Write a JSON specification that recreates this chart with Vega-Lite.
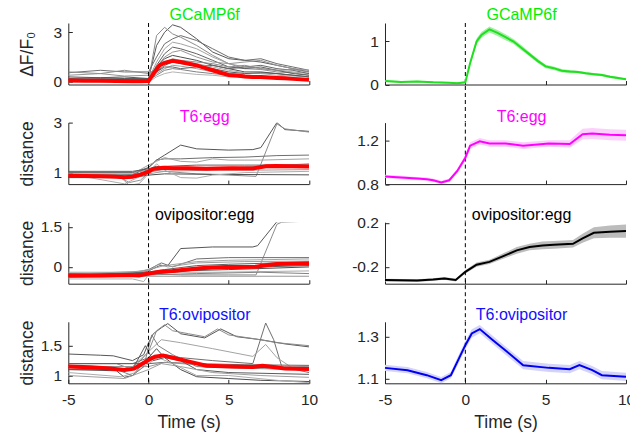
{
"$schema":"https://vega.github.io/schema/vega-lite/v6.json",
"background":"#ffffff",
"padding":{"left":18.3,"top":7,"right":2,"bottom":2},
"columns":2,
"spacing":{"row":37.6,"column":75.7},
"bounds":"flush",
"config":{"font":"Liberation Sans","view":{"stroke":null},"text":{"font":"Liberation Sans"},
"scale":{"nice":false,"zero":false},
"axis":{"grid":false,"domainColor":"#262626","tickColor":"#262626","tickSize":-4,"labelColor":"#262626","labelFont":"Liberation Sans","titleFont":"Liberation Sans","labelFontSize":15.5,"labelPadding":10.6,"titleFontSize":17.5,"titleFontWeight":"normal","titleColor":"#262626","labelFlush":false,"labelOverlap":false}},
"datasets":{
"g":[
{"p":1,"s":1,"t":-5,"v":0.3},{"p":1,"s":1,"t":-3,"v":0.25},{"p":1,"s":1,"t":-1.5,"v":0.3},{"p":1,"s":1,"t":0,"v":0.2},{"p":1,"s":1,"t":0.5,"v":2.2},{"p":1,"s":1,"t":1,"v":3.0},{"p":1,"s":1,"t":1.5,"v":3.45},{"p":1,"s":1,"t":2,"v":3.3},{"p":1,"s":1,"t":3,"v":2.6},{"p":1,"s":1,"t":4,"v":1.8},{"p":1,"s":1,"t":5,"v":1.4},{"p":1,"s":1,"t":6,"v":1.3},{"p":1,"s":1,"t":7,"v":1.2},{"p":1,"s":1,"t":8,"v":1.0},{"p":1,"s":1,"t":9,"v":0.8},{"p":1,"s":1,"t":10,"v":0.6},
{"p":1,"s":2,"t":-5,"v":0.1},{"p":1,"s":2,"t":-3,"v":0.15},{"p":1,"s":2,"t":-1.5,"v":0.1},{"p":1,"s":2,"t":0,"v":0.1},{"p":1,"s":2,"t":0.5,"v":2.8},{"p":1,"s":2,"t":1,"v":3.3},{"p":1,"s":2,"t":1.5,"v":2.9},{"p":1,"s":2,"t":2,"v":2.7},{"p":1,"s":2,"t":3,"v":2.2},{"p":1,"s":2,"t":4,"v":1.6},{"p":1,"s":2,"t":5,"v":1.1},{"p":1,"s":2,"t":6,"v":0.8},{"p":1,"s":2,"t":7,"v":0.75},{"p":1,"s":2,"t":8,"v":0.6},{"p":1,"s":2,"t":9,"v":0.55},{"p":1,"s":2,"t":10,"v":0.4},
{"p":1,"s":3,"t":-5,"v":0.55},{"p":1,"s":3,"t":-3,"v":0.7},{"p":1,"s":3,"t":-1.5,"v":0.6},{"p":1,"s":3,"t":0,"v":0.6},{"p":1,"s":3,"t":0.5,"v":1.5},{"p":1,"s":3,"t":1,"v":2.3},{"p":1,"s":3,"t":1.5,"v":2.6},{"p":1,"s":3,"t":2,"v":2.8},{"p":1,"s":3,"t":3,"v":2.5},{"p":1,"s":3,"t":4,"v":2.0},{"p":1,"s":3,"t":5,"v":1.5},{"p":1,"s":3,"t":6,"v":1.3},{"p":1,"s":3,"t":7,"v":1.4},{"p":1,"s":3,"t":8,"v":1.1},{"p":1,"s":3,"t":9,"v":0.9},{"p":1,"s":3,"t":10,"v":0.7},
{"p":1,"s":4,"t":-5,"v":0.2},{"p":1,"s":4,"t":-3,"v":0.15},{"p":1,"s":4,"t":-1.5,"v":0.2},{"p":1,"s":4,"t":0,"v":0.15},{"p":1,"s":4,"t":0.5,"v":1.2},{"p":1,"s":4,"t":1,"v":2.0},{"p":1,"s":4,"t":1.5,"v":2.4},{"p":1,"s":4,"t":2,"v":2.3},{"p":1,"s":4,"t":3,"v":2.0},{"p":1,"s":4,"t":4,"v":1.5},{"p":1,"s":4,"t":5,"v":1.1},{"p":1,"s":4,"t":6,"v":0.9},{"p":1,"s":4,"t":7,"v":0.8},{"p":1,"s":4,"t":8,"v":0.7},{"p":1,"s":4,"t":9,"v":0.6},{"p":1,"s":4,"t":10,"v":0.5},
{"p":1,"s":5,"t":-5,"v":0.05},{"p":1,"s":5,"t":-3,"v":0.1},{"p":1,"s":5,"t":-1.5,"v":0.05},{"p":1,"s":5,"t":0,"v":0.05},{"p":1,"s":5,"t":0.5,"v":1.0},{"p":1,"s":5,"t":1,"v":1.7},{"p":1,"s":5,"t":1.5,"v":2.1},{"p":1,"s":5,"t":2,"v":2.0},{"p":1,"s":5,"t":3,"v":1.7},{"p":1,"s":5,"t":4,"v":1.3},{"p":1,"s":5,"t":5,"v":0.9},{"p":1,"s":5,"t":6,"v":0.8},{"p":1,"s":5,"t":7,"v":0.9},{"p":1,"s":5,"t":8,"v":0.7},{"p":1,"s":5,"t":9,"v":0.5},{"p":1,"s":5,"t":10,"v":0.4},
{"p":1,"s":6,"t":-5,"v":0.4},{"p":1,"s":6,"t":-3,"v":0.5},{"p":1,"s":6,"t":-1.5,"v":0.35},{"p":1,"s":6,"t":0,"v":0.4},{"p":1,"s":6,"t":0.5,"v":0.9},{"p":1,"s":6,"t":1,"v":1.5},{"p":1,"s":6,"t":1.5,"v":1.8},{"p":1,"s":6,"t":2,"v":1.9},{"p":1,"s":6,"t":3,"v":1.5},{"p":1,"s":6,"t":4,"v":1.2},{"p":1,"s":6,"t":5,"v":1.1},{"p":1,"s":6,"t":6,"v":1.2},{"p":1,"s":6,"t":7,"v":1.3},{"p":1,"s":6,"t":8,"v":1.0},{"p":1,"s":6,"t":9,"v":0.8},{"p":1,"s":6,"t":10,"v":0.7},
{"p":1,"s":7,"t":-5,"v":0.15},{"p":1,"s":7,"t":-3,"v":0.1},{"p":1,"s":7,"t":-1.5,"v":0.15},{"p":1,"s":7,"t":0,"v":0.1},{"p":1,"s":7,"t":0.5,"v":0.9},{"p":1,"s":7,"t":1,"v":1.4},{"p":1,"s":7,"t":1.5,"v":1.6},{"p":1,"s":7,"t":2,"v":1.5},{"p":1,"s":7,"t":3,"v":1.3},{"p":1,"s":7,"t":4,"v":1.0},{"p":1,"s":7,"t":5,"v":0.8},{"p":1,"s":7,"t":6,"v":0.6},{"p":1,"s":7,"t":7,"v":0.6},{"p":1,"s":7,"t":8,"v":0.5},{"p":1,"s":7,"t":9,"v":0.4},{"p":1,"s":7,"t":10,"v":0.3},
{"p":1,"s":8,"t":-5,"v":0},{"p":1,"s":8,"t":-3,"v":0.05},{"p":1,"s":8,"t":-1.5,"v":0},{"p":1,"s":8,"t":0,"v":0},{"p":1,"s":8,"t":0.5,"v":0.7},{"p":1,"s":8,"t":1,"v":1.2},{"p":1,"s":8,"t":1.5,"v":1.4},{"p":1,"s":8,"t":2,"v":1.3},{"p":1,"s":8,"t":3,"v":1.1},{"p":1,"s":8,"t":4,"v":0.9},{"p":1,"s":8,"t":5,"v":0.7},{"p":1,"s":8,"t":6,"v":0.55},{"p":1,"s":8,"t":7,"v":0.5},{"p":1,"s":8,"t":8,"v":0.4},{"p":1,"s":8,"t":9,"v":0.35},{"p":1,"s":8,"t":10,"v":0.3},
{"p":1,"s":9,"t":-5,"v":0.2},{"p":1,"s":9,"t":-3,"v":0.25},{"p":1,"s":9,"t":-1.5,"v":0.2},{"p":1,"s":9,"t":0,"v":0.2},{"p":1,"s":9,"t":0.5,"v":0.6},{"p":1,"s":9,"t":1,"v":1.0},{"p":1,"s":9,"t":1.5,"v":1.2},{"p":1,"s":9,"t":2,"v":1.1},{"p":1,"s":9,"t":3,"v":1.0},{"p":1,"s":9,"t":4,"v":0.8},{"p":1,"s":9,"t":5,"v":0.6},{"p":1,"s":9,"t":6,"v":0.5},{"p":1,"s":9,"t":7,"v":0.55},{"p":1,"s":9,"t":8,"v":0.5},{"p":1,"s":9,"t":9,"v":0.4},{"p":1,"s":9,"t":10,"v":0.3},
{"p":1,"s":10,"t":-5,"v":0.05},{"p":1,"s":10,"t":-3,"v":0},{"p":1,"s":10,"t":-1.5,"v":0.05},{"p":1,"s":10,"t":0,"v":0.05},{"p":1,"s":10,"t":0.5,"v":0.5},{"p":1,"s":10,"t":1,"v":0.8},{"p":1,"s":10,"t":1.5,"v":1.0},{"p":1,"s":10,"t":2,"v":0.95},{"p":1,"s":10,"t":3,"v":0.8},{"p":1,"s":10,"t":4,"v":0.6},{"p":1,"s":10,"t":5,"v":0.5},{"p":1,"s":10,"t":6,"v":0.4},{"p":1,"s":10,"t":7,"v":0.35},{"p":1,"s":10,"t":8,"v":0.3},{"p":1,"s":10,"t":9,"v":0.25},{"p":1,"s":10,"t":10,"v":0.2},
{"p":1,"s":11,"t":-5,"v":0.1},{"p":1,"s":11,"t":-3,"v":0.1},{"p":1,"s":11,"t":-1.5,"v":0.1},{"p":1,"s":11,"t":0,"v":0.1},{"p":1,"s":11,"t":0.5,"v":0.4},{"p":1,"s":11,"t":1,"v":0.7},{"p":1,"s":11,"t":1.5,"v":0.8},{"p":1,"s":11,"t":2,"v":0.75},{"p":1,"s":11,"t":3,"v":0.6},{"p":1,"s":11,"t":4,"v":0.5},{"p":1,"s":11,"t":5,"v":0.4},{"p":1,"s":11,"t":6,"v":0.35},{"p":1,"s":11,"t":7,"v":0.3},{"p":1,"s":11,"t":8,"v":0.25},{"p":1,"s":11,"t":9,"v":0.2},{"p":1,"s":11,"t":10,"v":0.15},
{"p":1,"s":12,"t":-5,"v":0},{"p":1,"s":12,"t":-3,"v":0.05},{"p":1,"s":12,"t":-1.5,"v":0},{"p":1,"s":12,"t":0,"v":0},{"p":1,"s":12,"t":0.5,"v":0.3},{"p":1,"s":12,"t":1,"v":0.5},{"p":1,"s":12,"t":1.5,"v":0.6},{"p":1,"s":12,"t":2,"v":0.55},{"p":1,"s":12,"t":3,"v":0.45},{"p":1,"s":12,"t":4,"v":0.4},{"p":1,"s":12,"t":5,"v":0.3},{"p":1,"s":12,"t":6,"v":0.25},{"p":1,"s":12,"t":7,"v":0.2},{"p":1,"s":12,"t":8,"v":0.2},{"p":1,"s":12,"t":9,"v":0.15},{"p":1,"s":12,"t":10,"v":0.1},
{"p":1,"s":13,"t":-5,"v":0.15},{"p":1,"s":13,"t":-3,"v":0.2},{"p":1,"s":13,"t":-1.5,"v":0.15},{"p":1,"s":13,"t":0,"v":0.15},{"p":1,"s":13,"t":0.5,"v":0.6},{"p":1,"s":13,"t":1,"v":0.9},{"p":1,"s":13,"t":1.5,"v":0.9},{"p":1,"s":13,"t":2,"v":0.8},{"p":1,"s":13,"t":3,"v":0.9},{"p":1,"s":13,"t":4,"v":1.0},{"p":1,"s":13,"t":5,"v":0.8},{"p":1,"s":13,"t":6,"v":0.9},{"p":1,"s":13,"t":7,"v":1.0},{"p":1,"s":13,"t":8,"v":0.8},{"p":1,"s":13,"t":9,"v":0.7},{"p":1,"s":13,"t":10,"v":0.5},
{"p":1,"s":14,"t":-5,"v":0.6},{"p":1,"s":14,"t":-3,"v":0.5},{"p":1,"s":14,"t":-1.5,"v":0.7},{"p":1,"s":14,"t":0,"v":0.5},{"p":1,"s":14,"t":0.5,"v":0.8},{"p":1,"s":14,"t":1,"v":1.1},{"p":1,"s":14,"t":1.5,"v":1.2},{"p":1,"s":14,"t":2,"v":1.3},{"p":1,"s":14,"t":3,"v":1.2},{"p":1,"s":14,"t":4,"v":1.1},{"p":1,"s":14,"t":5,"v":0.9},{"p":1,"s":14,"t":6,"v":1.0},{"p":1,"s":14,"t":7,"v":0.8},{"p":1,"s":14,"t":8,"v":0.7},{"p":1,"s":14,"t":9,"v":0.75},{"p":1,"s":14,"t":10,"v":0.6},
{"p":2,"s":1,"t":-5,"v":0.9},{"p":2,"s":1,"t":-2,"v":0.88},{"p":2,"s":1,"t":-1,"v":0.92},{"p":2,"s":1,"t":0,"v":1.2},{"p":2,"s":1,"t":0.5,"v":1.5},{"p":2,"s":1,"t":1,"v":1.7},{"p":2,"s":1,"t":2,"v":2.1},{"p":2,"s":1,"t":3,"v":1.95},{"p":2,"s":1,"t":5,"v":1.9},{"p":2,"s":1,"t":6.5,"v":1.92},{"p":2,"s":1,"t":7,"v":2.0},{"p":2,"s":1,"t":8,"v":3.0},{"p":2,"s":1,"t":8.5,"v":2.72},{"p":2,"s":1,"t":10,"v":2.65},
{"p":2,"s":2,"t":-5,"v":1.0},{"p":2,"s":2,"t":-1,"v":1.0},{"p":2,"s":2,"t":0,"v":1.1},{"p":2,"s":2,"t":1,"v":1.05},{"p":2,"s":2,"t":3,"v":0.95},{"p":2,"s":2,"t":5,"v":0.9},{"p":2,"s":2,"t":6.7,"v":0.85},{"p":2,"s":2,"t":8,"v":2.95},{"p":2,"s":2,"t":8.5,"v":2.75},{"p":2,"s":2,"t":10,"v":2.62},
{"p":2,"s":3,"t":-5,"v":1.0},{"p":2,"s":3,"t":-1,"v":1.0},{"p":2,"s":3,"t":0,"v":1.2},{"p":2,"s":3,"t":0.5,"v":1.5},{"p":2,"s":3,"t":1,"v":1.55},{"p":2,"s":3,"t":2,"v":1.55},{"p":2,"s":3,"t":4,"v":1.6},{"p":2,"s":3,"t":6,"v":1.62},{"p":2,"s":3,"t":8,"v":1.68},{"p":2,"s":3,"t":10,"v":1.7},
{"p":2,"s":4,"t":-5,"v":0.95},{"p":2,"s":4,"t":-1,"v":0.95},{"p":2,"s":4,"t":0,"v":1.3},{"p":2,"s":4,"t":0.5,"v":1.45},{"p":2,"s":4,"t":1,"v":1.6},{"p":2,"s":4,"t":2,"v":1.45},{"p":2,"s":4,"t":3,"v":1.42},{"p":2,"s":4,"t":4,"v":1.55},{"p":2,"s":4,"t":5,"v":1.5},{"p":2,"s":4,"t":7,"v":1.5},{"p":2,"s":4,"t":10,"v":1.55},
{"p":2,"s":5,"t":-5,"v":0.85},{"p":2,"s":5,"t":-1.5,"v":0.8},{"p":2,"s":5,"t":-0.5,"v":0.85},{"p":2,"s":5,"t":0,"v":1.1},{"p":2,"s":5,"t":1,"v":1.25},{"p":2,"s":5,"t":3,"v":1.3},{"p":2,"s":5,"t":6,"v":1.3},{"p":2,"s":5,"t":10,"v":1.3},
{"p":2,"s":6,"t":-5,"v":0.92},{"p":2,"s":6,"t":-2,"v":0.9},{"p":2,"s":6,"t":-1.2,"v":0.6},{"p":2,"s":6,"t":-0.5,"v":0.7},{"p":2,"s":6,"t":0,"v":1.0},{"p":2,"s":6,"t":1,"v":1.15},{"p":2,"s":6,"t":3,"v":1.2},{"p":2,"s":6,"t":6,"v":1.22},{"p":2,"s":6,"t":10,"v":1.25},
{"p":2,"s":7,"t":-5,"v":0.8},{"p":2,"s":7,"t":-1,"v":0.8},{"p":2,"s":7,"t":0,"v":0.9},{"p":2,"s":7,"t":1,"v":0.95},{"p":2,"s":7,"t":4,"v":0.93},{"p":2,"s":7,"t":7,"v":0.92},{"p":2,"s":7,"t":10,"v":0.91},
{"p":2,"s":8,"t":-5,"v":0.95},{"p":2,"s":8,"t":-1.5,"v":0.55},{"p":2,"s":8,"t":-1,"v":0.7},{"p":2,"s":8,"t":0,"v":1.0},{"p":2,"s":8,"t":0.5,"v":1.35},{"p":2,"s":8,"t":1,"v":1.1},{"p":2,"s":8,"t":2,"v":0.8},{"p":2,"s":8,"t":3,"v":0.78},{"p":2,"s":8,"t":4,"v":0.9},{"p":2,"s":8,"t":6,"v":1.0},{"p":2,"s":8,"t":10,"v":1.05},
{"p":2,"s":9,"t":-5,"v":1.05},{"p":2,"s":9,"t":-1,"v":1.05},{"p":2,"s":9,"t":0,"v":1.15},{"p":2,"s":9,"t":0.5,"v":1.25},{"p":2,"s":9,"t":1,"v":1.2},{"p":2,"s":9,"t":3,"v":1.15},{"p":2,"s":9,"t":6,"v":1.2},{"p":2,"s":9,"t":10,"v":1.2},
{"p":2,"s":10,"t":-5,"v":0.88},{"p":2,"s":10,"t":-1.8,"v":0.85},{"p":2,"s":10,"t":-1.2,"v":0.5},{"p":2,"s":10,"t":-0.6,"v":0.55},{"p":2,"s":10,"t":0,"v":0.95},{"p":2,"s":10,"t":1,"v":1.05},{"p":2,"s":10,"t":4,"v":1.1},{"p":2,"s":10,"t":7,"v":1.1},{"p":2,"s":10,"t":10,"v":1.12},
{"p":2,"s":11,"t":-5,"v":0.9},{"p":2,"s":11,"t":-1,"v":0.92},{"p":2,"s":11,"t":0,"v":1.05},{"p":2,"s":11,"t":0.5,"v":1.2},{"p":2,"s":11,"t":1,"v":1.15},{"p":2,"s":11,"t":4,"v":1.15},{"p":2,"s":11,"t":10,"v":1.35},
{"p":3,"s":1,"t":-5,"v":-0.3},{"p":3,"s":1,"t":-1,"v":-0.3},{"p":3,"s":1,"t":0,"v":-0.15},{"p":3,"s":1,"t":0.7,"v":0.05},{"p":3,"s":1,"t":1.2,"v":0.05},{"p":3,"s":1,"t":2,"v":0.69},{"p":3,"s":1,"t":4,"v":0.75},{"p":3,"s":1,"t":6.5,"v":0.75},{"p":3,"s":1,"t":6.8,"v":0.8},{"p":3,"s":1,"t":8,"v":1.7},{"p":3,"s":1,"t":10,"v":1.72},
{"p":3,"s":2,"t":-5,"v":-0.35},{"p":3,"s":2,"t":-1,"v":-0.35},{"p":3,"s":2,"t":0,"v":-0.25},{"p":3,"s":2,"t":2,"v":-0.3},{"p":3,"s":2,"t":5,"v":-0.3},{"p":3,"s":2,"t":6.7,"v":-0.3},{"p":3,"s":2,"t":8,"v":1.6},{"p":3,"s":2,"t":8.3,"v":1.68},{"p":3,"s":2,"t":10,"v":1.72},
{"p":3,"s":3,"t":-5,"v":-0.25},{"p":3,"s":3,"t":-1,"v":-0.25},{"p":3,"s":3,"t":0,"v":-0.1},{"p":3,"s":3,"t":0.8,"v":0.15},{"p":3,"s":3,"t":1.5,"v":0.0},{"p":3,"s":3,"t":3,"v":0.3},{"p":3,"s":3,"t":5,"v":0.35},{"p":3,"s":3,"t":10,"v":0.35},
{"p":3,"s":4,"t":-5,"v":-0.2},{"p":3,"s":4,"t":-1,"v":-0.2},{"p":3,"s":4,"t":0,"v":-0.1},{"p":3,"s":4,"t":1,"v":0.05},{"p":3,"s":4,"t":3,"v":0.2},{"p":3,"s":4,"t":5,"v":0.25},{"p":3,"s":4,"t":10,"v":0.3},
{"p":3,"s":5,"t":-5,"v":-0.3},{"p":3,"s":5,"t":0,"v":-0.2},{"p":3,"s":5,"t":1,"v":-0.1},{"p":3,"s":5,"t":3,"v":0.05},{"p":3,"s":5,"t":5,"v":0.1},{"p":3,"s":5,"t":8,"v":0.15},{"p":3,"s":5,"t":10,"v":0.2},
{"p":3,"s":6,"t":-5,"v":-0.4},{"p":3,"s":6,"t":0,"v":-0.35},{"p":3,"s":6,"t":2,"v":-0.35},{"p":3,"s":6,"t":5,"v":-0.35},{"p":3,"s":6,"t":10,"v":-0.35},
{"p":3,"s":7,"t":-5,"v":-0.3},{"p":3,"s":7,"t":0,"v":-0.25},{"p":3,"s":7,"t":2,"v":-0.15},{"p":3,"s":7,"t":5,"v":-0.1},{"p":3,"s":7,"t":10,"v":0.0},
{"p":3,"s":8,"t":-5,"v":-0.45},{"p":3,"s":8,"t":-1,"v":-0.45},{"p":3,"s":8,"t":-0.3,"v":-0.55},{"p":3,"s":8,"t":0,"v":-0.3},{"p":3,"s":8,"t":1,"v":-0.2},{"p":3,"s":8,"t":4,"v":-0.2},{"p":3,"s":8,"t":10,"v":-0.15},
{"p":3,"s":9,"t":-5,"v":-0.35},{"p":3,"s":9,"t":0,"v":-0.28},{"p":3,"s":9,"t":1.5,"v":-0.2},{"p":3,"s":9,"t":4,"v":-0.05},{"p":3,"s":9,"t":7,"v":0.0},{"p":3,"s":9,"t":10,"v":0.05},
{"p":3,"s":10,"t":-5,"v":-0.28},{"p":3,"s":10,"t":0,"v":-0.15},{"p":3,"s":10,"t":0.6,"v":0.1},{"p":3,"s":10,"t":1.2,"v":0.0},{"p":3,"s":10,"t":3,"v":0.15},{"p":3,"s":10,"t":6,"v":0.2},{"p":3,"s":10,"t":10,"v":0.22},
{"p":3,"s":11,"t":-5,"v":-0.38},{"p":3,"s":11,"t":0,"v":-0.3},{"p":3,"s":11,"t":3,"v":-0.25},{"p":3,"s":11,"t":7,"v":-0.2},{"p":3,"s":11,"t":10,"v":-0.25},
{"p":4,"s":1,"t":-5,"v":1.36},{"p":4,"s":1,"t":-3,"v":1.34},{"p":4,"s":1,"t":-2.2,"v":1.33},{"p":4,"s":1,"t":-1,"v":1.25},{"p":4,"s":1,"t":-0.3,"v":1.35},{"p":4,"s":1,"t":0,"v":1.55},{"p":4,"s":1,"t":0.3,"v":1.7},{"p":4,"s":1,"t":0.8,"v":1.8},{"p":4,"s":1,"t":1.2,"v":1.87},{"p":4,"s":1,"t":2,"v":1.7},{"p":4,"s":1,"t":3.5,"v":1.63},{"p":4,"s":1,"t":4.5,"v":1.78},{"p":4,"s":1,"t":5.5,"v":1.65},{"p":4,"s":1,"t":7,"v":1.6},{"p":4,"s":1,"t":8.5,"v":1.53},{"p":4,"s":1,"t":10,"v":1.48},
{"p":4,"s":2,"t":-5,"v":1.2},{"p":4,"s":2,"t":-2,"v":1.2},{"p":4,"s":2,"t":-1,"v":1.1},{"p":4,"s":2,"t":0,"v":1.4},{"p":4,"s":2,"t":0.5,"v":1.75},{"p":4,"s":2,"t":1,"v":1.85},{"p":4,"s":2,"t":1.5,"v":1.75},{"p":4,"s":2,"t":2.5,"v":1.7},{"p":4,"s":2,"t":3.5,"v":1.65},{"p":4,"s":2,"t":4.3,"v":1.78},{"p":4,"s":2,"t":5,"v":1.68},{"p":4,"s":2,"t":6.5,"v":1.62},{"p":4,"s":2,"t":8,"v":1.55},{"p":4,"s":2,"t":10,"v":1.5},
{"p":4,"s":3,"t":-5,"v":1.2},{"p":4,"s":3,"t":-1,"v":1.2},{"p":4,"s":3,"t":0,"v":1.3},{"p":4,"s":3,"t":1,"v":1.35},{"p":4,"s":3,"t":2,"v":1.3},{"p":4,"s":3,"t":4,"v":1.25},{"p":4,"s":3,"t":6.5,"v":1.2},{"p":4,"s":3,"t":7.3,"v":1.88},{"p":4,"s":3,"t":7.8,"v":1.6},{"p":4,"s":3,"t":8.3,"v":1.15},{"p":4,"s":3,"t":10,"v":1.05},
{"p":4,"s":4,"t":-5,"v":1.15},{"p":4,"s":4,"t":-1,"v":1.15},{"p":4,"s":4,"t":0,"v":1.4},{"p":4,"s":4,"t":0.8,"v":1.6},{"p":4,"s":4,"t":2,"v":1.55},{"p":4,"s":4,"t":4,"v":1.45},{"p":4,"s":4,"t":6.5,"v":1.32},{"p":4,"s":4,"t":7.3,"v":1.52},{"p":4,"s":4,"t":8,"v":1.3},{"p":4,"s":4,"t":9,"v":1.12},{"p":4,"s":4,"t":10,"v":1.1},
{"p":4,"s":5,"t":-5,"v":1.2},{"p":4,"s":5,"t":-2,"v":1.2},{"p":4,"s":5,"t":0,"v":1.2},{"p":4,"s":5,"t":1,"v":1.22},{"p":4,"s":5,"t":3,"v":1.2},{"p":4,"s":5,"t":6,"v":1.18},{"p":4,"s":5,"t":10,"v":1.17},
{"p":4,"s":6,"t":-5,"v":1.15},{"p":4,"s":6,"t":-1.5,"v":1.15},{"p":4,"s":6,"t":0,"v":1.15},{"p":4,"s":6,"t":1,"v":1.22},{"p":4,"s":6,"t":3,"v":1.18},{"p":4,"s":6,"t":6,"v":1.17},{"p":4,"s":6,"t":10,"v":1.15},
{"p":4,"s":7,"t":-5,"v":1.1},{"p":4,"s":7,"t":-2,"v":1.08},{"p":4,"s":7,"t":-1.5,"v":0.97},{"p":4,"s":7,"t":-1,"v":1.0},{"p":4,"s":7,"t":0,"v":1.3},{"p":4,"s":7,"t":0.5,"v":1.45},{"p":4,"s":7,"t":1,"v":1.3},{"p":4,"s":7,"t":2,"v":1.1},{"p":4,"s":7,"t":3,"v":0.98},{"p":4,"s":7,"t":5,"v":0.95},{"p":4,"s":7,"t":7,"v":0.92},{"p":4,"s":7,"t":10,"v":0.9},
{"p":4,"s":8,"t":-5,"v":1.05},{"p":4,"s":8,"t":-1.7,"v":0.98},{"p":4,"s":8,"t":-0.8,"v":1.05},{"p":4,"s":8,"t":0,"v":1.2},{"p":4,"s":8,"t":0.6,"v":1.3},{"p":4,"s":8,"t":1.5,"v":1.2},{"p":4,"s":8,"t":3,"v":1.0},{"p":4,"s":8,"t":5,"v":1.0},{"p":4,"s":8,"t":8,"v":0.92},{"p":4,"s":8,"t":10,"v":0.88},
{"p":4,"s":9,"t":-5,"v":1.1},{"p":4,"s":9,"t":-1,"v":1.1},{"p":4,"s":9,"t":-0.2,"v":1.5},{"p":4,"s":9,"t":0.3,"v":1.25},{"p":4,"s":9,"t":1,"v":1.3},{"p":4,"s":9,"t":2,"v":1.25},{"p":4,"s":9,"t":3,"v":1.1},{"p":4,"s":9,"t":5,"v":1.05},{"p":4,"s":9,"t":10,"v":1.02},
{"p":4,"s":10,"t":-5,"v":1.0},{"p":4,"s":10,"t":-1.5,"v":0.95},{"p":4,"s":10,"t":0,"v":1.1},{"p":4,"s":10,"t":0.8,"v":1.2},{"p":4,"s":10,"t":2,"v":1.15},{"p":4,"s":10,"t":4,"v":1.05},{"p":4,"s":10,"t":7,"v":1.0},{"p":4,"s":10,"t":10,"v":0.97},
{"p":4,"s":11,"t":-5,"v":1.13},{"p":4,"s":11,"t":-2,"v":1.1},{"p":4,"s":11,"t":-1,"v":1.0},{"p":4,"s":11,"t":-0.3,"v":1.15},{"p":4,"s":11,"t":0.2,"v":1.68},{"p":4,"s":11,"t":0.6,"v":1.5},{"p":4,"s":11,"t":1.5,"v":1.35},{"p":4,"s":11,"t":3,"v":1.15},{"p":4,"s":11,"t":6,"v":1.12},{"p":4,"s":11,"t":10,"v":1.1}
],
"m":[
{"p":1,"t":-5,"v":0.08,"lo":0.06,"hi":0.1},{"p":1,"t":-4,"v":0.06,"lo":0.04,"hi":0.08},{"p":1,"t":-3,"v":0.07,"lo":0.05,"hi":0.09},{"p":1,"t":-2,"v":0.05,"lo":0.03,"hi":0.07},{"p":1,"t":-1,"v":0.04,"lo":0.02,"hi":0.06},{"p":1,"t":-0.5,"v":0.03,"lo":0.01,"hi":0.05},{"p":1,"t":0,"v":0.05,"lo":0.03,"hi":0.07},{"p":1,"t":0.3,"v":0.5,"lo":0.45,"hi":0.55},{"p":1,"t":0.7,"v":1.0,"lo":0.93,"hi":1.07},{"p":1,"t":1,"v":1.15,"lo":1.08,"hi":1.22},{"p":1,"t":1.5,"v":1.28,"lo":1.21,"hi":1.35},{"p":1,"t":2,"v":1.2,"lo":1.13,"hi":1.27},{"p":1,"t":2.5,"v":1.1,"lo":1.03,"hi":1.17},{"p":1,"t":3,"v":1.0,"lo":0.94,"hi":1.06},{"p":1,"t":3.5,"v":0.85,"lo":0.79,"hi":0.91},{"p":1,"t":4,"v":0.7,"lo":0.65,"hi":0.75},{"p":1,"t":4.5,"v":0.55,"lo":0.5,"hi":0.6},{"p":1,"t":5,"v":0.42,"lo":0.38,"hi":0.46},{"p":1,"t":5.5,"v":0.38,"lo":0.34,"hi":0.42},{"p":1,"t":6,"v":0.32,"lo":0.28,"hi":0.36},{"p":1,"t":6.5,"v":0.3,"lo":0.26,"hi":0.34},{"p":1,"t":7,"v":0.29,"lo":0.26,"hi":0.32},{"p":1,"t":7.5,"v":0.26,"lo":0.23,"hi":0.29},{"p":1,"t":8,"v":0.24,"lo":0.21,"hi":0.27},{"p":1,"t":8.5,"v":0.22,"lo":0.19,"hi":0.25},{"p":1,"t":9,"v":0.18,"lo":0.15,"hi":0.21},{"p":1,"t":9.5,"v":0.15,"lo":0.12,"hi":0.18},{"p":1,"t":10,"v":0.12,"lo":0.1,"hi":0.14},
{"p":2,"t":-5,"v":0.87,"lo":0.855,"hi":0.885},{"p":2,"t":-4,"v":0.86,"lo":0.845,"hi":0.875},{"p":2,"t":-3,"v":0.85,"lo":0.835,"hi":0.865},{"p":2,"t":-2.4,"v":0.845,"lo":0.83,"hi":0.86},{"p":2,"t":-2,"v":0.835,"lo":0.82,"hi":0.85},{"p":2,"t":-1.5,"v":0.815,"lo":0.8,"hi":0.83},{"p":2,"t":-1,"v":0.835,"lo":0.82,"hi":0.85},{"p":2,"t":-0.5,"v":0.92,"lo":0.9,"hi":0.94},{"p":2,"t":0,"v":1.04,"lo":1.015,"hi":1.065},{"p":2,"t":0.3,"v":1.15,"lo":1.12,"hi":1.18},{"p":2,"t":0.9,"v":1.19,"lo":1.16,"hi":1.22},{"p":2,"t":1.5,"v":1.17,"lo":1.14,"hi":1.2},{"p":2,"t":2.5,"v":1.17,"lo":1.14,"hi":1.2},{"p":2,"t":3.6,"v":1.15,"lo":1.12,"hi":1.18},{"p":2,"t":5.2,"v":1.17,"lo":1.14,"hi":1.2},{"p":2,"t":6.5,"v":1.165,"lo":1.13,"hi":1.2},{"p":2,"t":7.3,"v":1.255,"lo":1.205,"hi":1.305},{"p":2,"t":7.9,"v":1.26,"lo":1.21,"hi":1.31},{"p":2,"t":9,"v":1.25,"lo":1.2,"hi":1.3},{"p":2,"t":10,"v":1.245,"lo":1.195,"hi":1.295},
{"p":3,"t":-5,"v":-0.32,"lo":-0.332,"hi":-0.308},{"p":3,"t":-3,"v":-0.325,"lo":-0.337,"hi":-0.313},{"p":3,"t":-2,"v":-0.315,"lo":-0.327,"hi":-0.303},{"p":3,"t":-1.3,"v":-0.305,"lo":-0.317,"hi":-0.293},{"p":3,"t":-0.6,"v":-0.32,"lo":-0.332,"hi":-0.308},{"p":3,"t":0,"v":-0.245,"lo":-0.26,"hi":-0.23},{"p":3,"t":0.7,"v":-0.18,"lo":-0.2,"hi":-0.16},{"p":3,"t":1.5,"v":-0.155,"lo":-0.175,"hi":-0.135},{"p":3,"t":2.4,"v":-0.1,"lo":-0.125,"hi":-0.075},{"p":3,"t":3.2,"v":-0.05,"lo":-0.08,"hi":-0.02},{"p":3,"t":4,"v":-0.02,"lo":-0.05,"hi":0.01},{"p":3,"t":4.8,"v":-0.005,"lo":-0.04,"hi":0.03},{"p":3,"t":5.5,"v":0,"lo":-0.035,"hi":0.035},{"p":3,"t":6.7,"v":0.01,"lo":-0.025,"hi":0.045},{"p":3,"t":7.3,"v":0.06,"lo":0.02,"hi":0.1},{"p":3,"t":8,"v":0.11,"lo":0.06,"hi":0.16},{"p":3,"t":9,"v":0.12,"lo":0.065,"hi":0.175},{"p":3,"t":10,"v":0.125,"lo":0.065,"hi":0.185},
{"p":4,"t":-5,"v":1.151,"lo":1.136,"hi":1.166},{"p":4,"t":-3.6,"v":1.14,"lo":1.125,"hi":1.155},{"p":4,"t":-2.4,"v":1.116,"lo":1.101,"hi":1.131},{"p":4,"t":-1.5,"v":1.092,"lo":1.077,"hi":1.107},{"p":4,"t":-0.9,"v":1.116,"lo":1.101,"hi":1.131},{"p":4,"t":-0.5,"v":1.18,"lo":1.16,"hi":1.2},{"p":4,"t":0,"v":1.26,"lo":1.24,"hi":1.28},{"p":4,"t":0.4,"v":1.316,"lo":1.296,"hi":1.336},{"p":4,"t":0.9,"v":1.337,"lo":1.317,"hi":1.357},{"p":4,"t":1.7,"v":1.285,"lo":1.265,"hi":1.305},{"p":4,"t":2.6,"v":1.228,"lo":1.208,"hi":1.248},{"p":4,"t":3.6,"v":1.164,"lo":1.144,"hi":1.184},{"p":4,"t":5.2,"v":1.151,"lo":1.131,"hi":1.171},{"p":4,"t":6.5,"v":1.145,"lo":1.125,"hi":1.165},{"p":4,"t":7.1,"v":1.164,"lo":1.144,"hi":1.184},{"p":4,"t":7.9,"v":1.14,"lo":1.12,"hi":1.16},{"p":4,"t":8.5,"v":1.116,"lo":1.096,"hi":1.136},{"p":4,"t":10,"v":1.108,"lo":1.088,"hi":1.128}
],
"one":[{}]},
"concat":[
{"width":240.7,"height":61.5,"layer":[
{"data":{"name":"g"},"transform":[{"filter":"datum.p==1"}],"mark":{"type":"line","strokeWidth":1,"clip":true},"encoding":{"x":{"field":"t","type":"quantitative","scale":{"domain":[-5,10]},"axis":{"values":[0,5,10],"labels":false,"title":null,"labelFlush":false}},"y":{"field":"v","type":"quantitative","scale":{"domain":[-0.16,3.56]},"axis":{"values":[0,1,2,3],"labelExpr":"datum.value==0?'0':datum.value==3?'3':''","title":"ΔF/F₀","titleX":-32}},"color":{"field":"s","type":"nominal","legend":null,"scale":{"range":["#555555","#8c8c8c","#6e6e6e","#a3a3a3","#606060","#969696","#4d4d4d","#adadad","#5a5a5a","#9e9e9e","#828282","#b3b3b3","#666666","#8f8f8f"]}}}},
{"data":{"name":"one"},"mark":{"type":"rule","color":"#000000","strokeDash":[4,3],"strokeWidth":1},"encoding":{"x":{"datum":0,"scale":{"domain":[-5,10]}},"y":{"datum":3.56,"scale":{"domain":[-0.16,3.56]}},"y2":{"datum":-2.43}}},
{"data":{"name":"m"},"transform":[{"filter":"datum.p==1"}],"mark":{"type":"line","color":"#ff0000","strokeWidth":4},"encoding":{"x":{"field":"t","type":"quantitative","scale":{"domain":[-5,10]}},"y":{"field":"v","type":"quantitative","scale":{"domain":[-0.16,3.56]}}}},
{"data":{"name":"one"},"mark":{"type":"text","font":"Liberation Sans","fontSize":16,"color":"#00ee00"},"encoding":{"x":{"datum":3.5,"scale":{"domain":[-5,10]}},"y":{"datum":4.03,"scale":{"domain":[-0.16,3.56]}},"text":{"value":"GCaMP6f"}}}
]},
{"width":241,"height":61.5,"layer":[
{"data":{"name":"m"},"transform":[{"filter":"datum.p==1"}],"mark":{"type":"area","color":"#a6eea6"},"encoding":{"x":{"field":"t","type":"quantitative","scale":{"domain":[-5,10]},"axis":{"values":[0,5,10],"labels":false,"title":null,"labelFlush":false}},"y":{"field":"lo","type":"quantitative","scale":{"domain":[0,1.43]},"axis":{"values":[0,0.5,1],"labelExpr":"datum.value==0?'0':datum.value==1?'1':''","title":null}},"y2":{"field":"hi"}}},
{"data":{"name":"one"},"mark":{"type":"rule","color":"#000000","strokeDash":[4,3],"strokeWidth":1},"encoding":{"x":{"datum":0,"scale":{"domain":[-5,10]}},"y":{"datum":1.43,"scale":{"domain":[0,1.43]}},"y2":{"datum":-0.87}}},
{"data":{"name":"m"},"transform":[{"filter":"datum.p==1"}],"mark":{"type":"line","color":"#1ee01e","strokeWidth":2},"encoding":{"x":{"field":"t","type":"quantitative","scale":{"domain":[-5,10]}},"y":{"field":"v","type":"quantitative","scale":{"domain":[0,1.43]}}}},
{"data":{"name":"one"},"mark":{"type":"text","font":"Liberation Sans","fontSize":16,"color":"#00ee00"},"encoding":{"x":{"datum":3.5,"scale":{"domain":[-5,10]}},"y":{"datum":1.61,"scale":{"domain":[0,1.43]}},"text":{"value":"GCaMP6f"}}}
]},
{"width":240.7,"height":61.5,"layer":[
{"data":{"name":"g"},"transform":[{"filter":"datum.p==2"}],"mark":{"type":"line","strokeWidth":1,"clip":true},"encoding":{"x":{"field":"t","type":"quantitative","scale":{"domain":[-5,10]},"axis":{"values":[0,5,10],"labels":false,"title":null,"labelFlush":false}},"y":{"field":"v","type":"quantitative","scale":{"domain":[0.54,3.0]},"axis":{"values":[1,2,3],"labelExpr":"datum.value==1?'1':datum.value==3?'3':''","title":"distance","titleX":-32}},"color":{"field":"s","type":"nominal","legend":null}}},
{"data":{"name":"one"},"mark":{"type":"rule","color":"#000000","strokeDash":[4,3],"strokeWidth":1},"encoding":{"x":{"datum":0,"scale":{"domain":[-5,10]}},"y":{"datum":3.0,"scale":{"domain":[0.54,3.0]}},"y2":{"datum":-0.96}}},
{"data":{"name":"m"},"transform":[{"filter":"datum.p==2"}],"mark":{"type":"line","color":"#ff0000","strokeWidth":4},"encoding":{"x":{"field":"t","type":"quantitative","scale":{"domain":[-5,10]}},"y":{"field":"v","type":"quantitative","scale":{"domain":[0.54,3.0]}}}},
{"data":{"name":"one"},"mark":{"type":"text","font":"Liberation Sans","fontSize":16,"color":"#ff00ff"},"encoding":{"x":{"datum":3.5,"scale":{"domain":[-5,10]}},"y":{"datum":3.24,"scale":{"domain":[0.54,3.0]}},"text":{"value":"T6:egg"}}}
]},
{"width":241,"height":61.5,"layer":[
{"data":{"name":"m"},"transform":[{"filter":"datum.p==2"}],"mark":{"type":"area","color":"#fcd0fc"},"encoding":{"x":{"field":"t","type":"quantitative","scale":{"domain":[-5,10]},"axis":{"values":[0,5,10],"labels":false,"title":null,"labelFlush":false}},"y":{"field":"lo","type":"quantitative","scale":{"domain":[0.8,1.36]},"axis":{"values":[0.8,1,1.2],"labelExpr":"datum.value==0.8?'0.8':datum.value==1.2?'1.2':''","title":null}},"y2":{"field":"hi"}}},
{"data":{"name":"one"},"mark":{"type":"rule","color":"#000000","strokeDash":[4,3],"strokeWidth":1},"encoding":{"x":{"datum":0,"scale":{"domain":[-5,10]}},"y":{"datum":1.36,"scale":{"domain":[0.8,1.36]}},"y2":{"datum":0.458}}},
{"data":{"name":"m"},"transform":[{"filter":"datum.p==2"}],"mark":{"type":"line","color":"#ff00ff","strokeWidth":2},"encoding":{"x":{"field":"t","type":"quantitative","scale":{"domain":[-5,10]}},"y":{"field":"v","type":"quantitative","scale":{"domain":[0.8,1.36]}}}},
{"data":{"name":"one"},"mark":{"type":"text","font":"Liberation Sans","fontSize":16,"color":"#ff00ff"},"encoding":{"x":{"datum":3.5,"scale":{"domain":[-5,10]}},"y":{"datum":1.415,"scale":{"domain":[0.8,1.36]}},"text":{"value":"T6:egg"}}}
]},
{"width":240.7,"height":61.5,"layer":[
{"data":{"name":"g"},"transform":[{"filter":"datum.p==3"}],"mark":{"type":"line","strokeWidth":1,"clip":true},"encoding":{"x":{"field":"t","type":"quantitative","scale":{"domain":[-5,10]},"axis":{"values":[0,5,10],"labels":false,"title":null,"labelFlush":false}},"y":{"field":"v","type":"quantitative","scale":{"domain":[-0.63,1.68]},"axis":{"values":[0,0.5,1,1.5],"labelExpr":"datum.value==0?'0':datum.value==1.5?'1.5':''","title":"distance","titleX":-32}},"color":{"field":"s","type":"nominal","legend":null}}},
{"data":{"name":"one"},"mark":{"type":"rule","color":"#000000","strokeDash":[4,3],"strokeWidth":1},"encoding":{"x":{"datum":0,"scale":{"domain":[-5,10]}},"y":{"datum":1.68,"scale":{"domain":[-0.63,1.68]}},"y2":{"datum":-2.04}}},
{"data":{"name":"m"},"transform":[{"filter":"datum.p==3"}],"mark":{"type":"line","color":"#ff0000","strokeWidth":4},"encoding":{"x":{"field":"t","type":"quantitative","scale":{"domain":[-5,10]}},"y":{"field":"v","type":"quantitative","scale":{"domain":[-0.63,1.68]}}}},
{"data":{"name":"one"},"mark":{"type":"text","font":"Liberation Sans","fontSize":16,"color":"#000000"},"encoding":{"x":{"datum":3.5,"scale":{"domain":[-5,10]}},"y":{"datum":1.94,"scale":{"domain":[-0.63,1.68]}},"text":{"value":"ovipositor:egg"}}}
]},
{"width":241,"height":61.5,"layer":[
{"data":{"name":"m"},"transform":[{"filter":"datum.p==3"}],"mark":{"type":"area","color":"#bcbcbc"},"encoding":{"x":{"field":"t","type":"quantitative","scale":{"domain":[-5,10]},"axis":{"values":[0,5,10],"labels":false,"title":null,"labelFlush":false}},"y":{"field":"lo","type":"quantitative","scale":{"domain":[-0.353,0.206]},"axis":{"values":[-0.2,0,0.2],"labelExpr":"datum.value==-0.2?'-0.2':datum.value==0.2?'0.2':''","title":null}},"y2":{"field":"hi"}}},
{"data":{"name":"one"},"mark":{"type":"rule","color":"#000000","strokeDash":[4,3],"strokeWidth":1},"encoding":{"x":{"datum":0,"scale":{"domain":[-5,10]}},"y":{"datum":0.206,"scale":{"domain":[-0.353,0.206]}},"y2":{"datum":-0.695}}},
{"data":{"name":"m"},"transform":[{"filter":"datum.p==3"}],"mark":{"type":"line","color":"#000000","strokeWidth":2},"encoding":{"x":{"field":"t","type":"quantitative","scale":{"domain":[-5,10]}},"y":{"field":"v","type":"quantitative","scale":{"domain":[-0.353,0.206]}}}},
{"data":{"name":"one"},"mark":{"type":"text","font":"Liberation Sans","fontSize":16,"color":"#000000"},"encoding":{"x":{"datum":3.5,"scale":{"domain":[-5,10]}},"y":{"datum":0.27,"scale":{"domain":[-0.353,0.206]}},"text":{"value":"ovipositor:egg"}}}
]},
{"width":240.7,"height":61.5,"layer":[
{"data":{"name":"g"},"transform":[{"filter":"datum.p==4"}],"mark":{"type":"line","strokeWidth":1,"clip":true},"encoding":{"x":{"field":"t","type":"quantitative","scale":{"domain":[-5,10]},"axis":{"values":[-5,0,5,10],"labelExpr":"datum.value==-5?'-5':datum.label","title":"Time (s)","labelFlush":false,"labelPadding":13,"titlePadding":6}},"y":{"field":"v","type":"quantitative","scale":{"domain":[0.87,1.9]},"axis":{"values":[1,1.5],"labelExpr":"datum.value==1?'1':'1.5'","title":"distance","titleX":-32}},"color":{"field":"s","type":"nominal","legend":null}}},
{"data":{"name":"one"},"mark":{"type":"rule","color":"#000000","strokeDash":[4,3],"strokeWidth":1},"encoding":{"x":{"datum":0,"scale":{"domain":[-5,10]}},"y":{"datum":1.9,"scale":{"domain":[0.87,1.9]}},"y2":{"datum":0.87}}},
{"data":{"name":"m"},"transform":[{"filter":"datum.p==4"}],"mark":{"type":"line","color":"#ff0000","strokeWidth":4},"encoding":{"x":{"field":"t","type":"quantitative","scale":{"domain":[-5,10]}},"y":{"field":"v","type":"quantitative","scale":{"domain":[0.87,1.9]}}}},
{"data":{"name":"one"},"mark":{"type":"text","font":"Liberation Sans","fontSize":16,"color":"#1010ff"},"encoding":{"x":{"datum":3.5,"scale":{"domain":[-5,10]}},"y":{"datum":2.02,"scale":{"domain":[0.87,1.9]}},"text":{"value":"T6:ovipositor"}}}
]},
{"width":241,"height":61.5,"layer":[
{"data":{"name":"m"},"transform":[{"filter":"datum.p==4"}],"mark":{"type":"area","color":"#d4d4fa"},"encoding":{"x":{"field":"t","type":"quantitative","scale":{"domain":[-5,10]},"axis":{"values":[-5,0,5,10],"labelExpr":"datum.value==-5?'-5':datum.label","title":"Time (s)","labelFlush":false,"labelPadding":13,"titlePadding":6}},"y":{"field":"lo","type":"quantitative","scale":{"domain":[1.077,1.372]},"axis":{"values":[1.1,1.2,1.3],"labelExpr":"datum.value==1.1?'1.1':datum.value==1.3?'1.3':''","title":null}},"y2":{"field":"hi"}}},
{"data":{"name":"one"},"mark":{"type":"rule","color":"#000000","strokeDash":[4,3],"strokeWidth":1},"encoding":{"x":{"datum":0,"scale":{"domain":[-5,10]}},"y":{"datum":1.372,"scale":{"domain":[1.077,1.372]}},"y2":{"datum":1.077}}},
{"data":{"name":"m"},"transform":[{"filter":"datum.p==4"}],"mark":{"type":"line","color":"#0000f0","strokeWidth":2},"encoding":{"x":{"field":"t","type":"quantitative","scale":{"domain":[-5,10]}},"y":{"field":"v","type":"quantitative","scale":{"domain":[1.077,1.372]}}}},
{"data":{"name":"one"},"mark":{"type":"text","font":"Liberation Sans","fontSize":16,"color":"#1010ff"},"encoding":{"x":{"datum":3.5,"scale":{"domain":[-5,10]}},"y":{"datum":1.406,"scale":{"domain":[1.077,1.372]}},"text":{"value":"T6:ovipositor"}}}
]}
]
}
